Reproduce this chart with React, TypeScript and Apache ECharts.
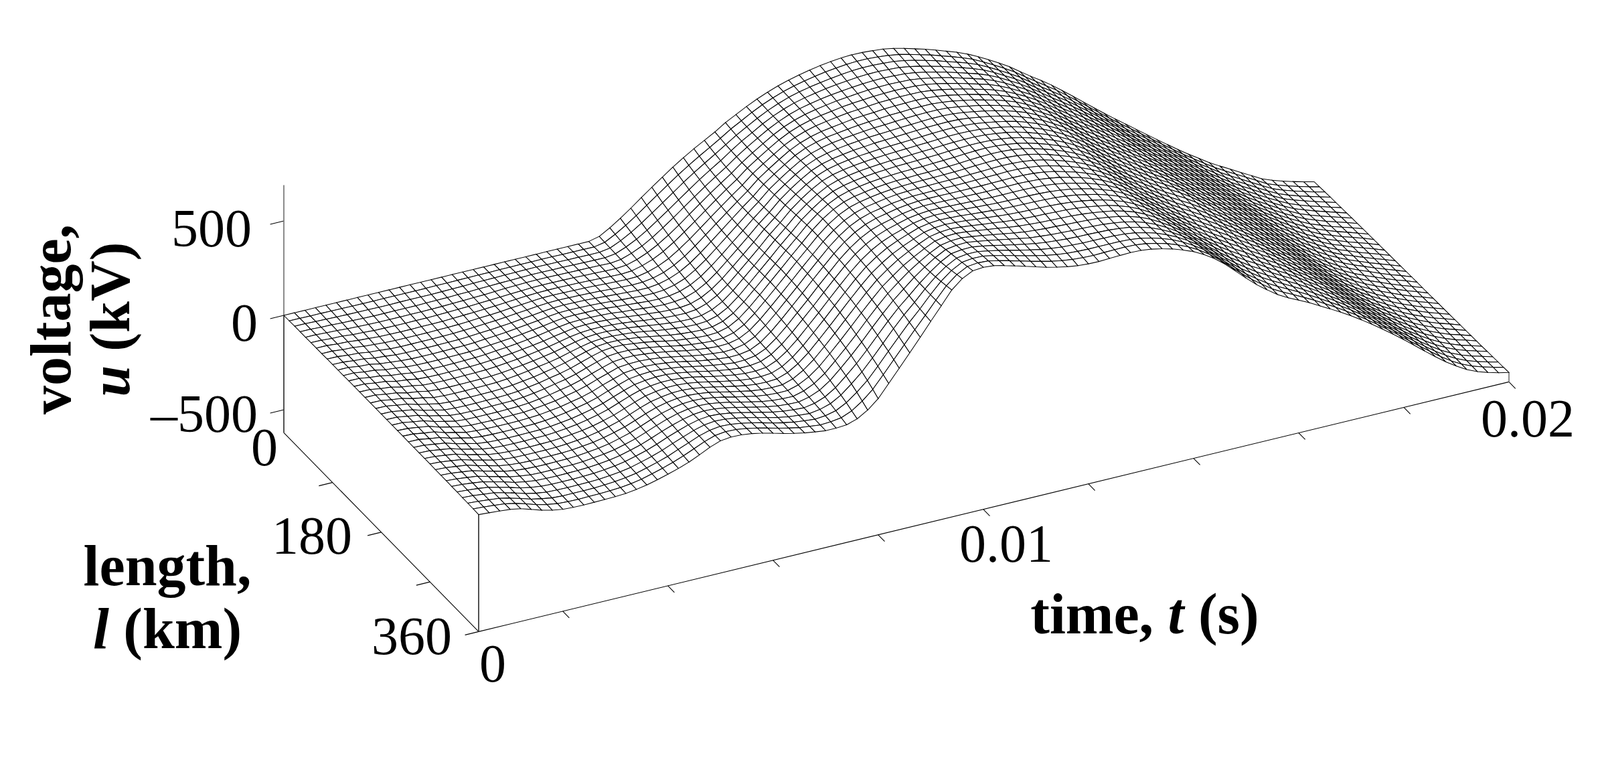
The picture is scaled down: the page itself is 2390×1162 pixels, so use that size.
import React, { useEffect, useRef } from "react";
import * as echarts from "echarts";

// voltage u (kV): one row per time step (0.0004 s ... 0.02 s, step 0.0002 s), 37 values per row (l = 0 ... 360 km, step 10 km)
const voltage: number[][] = [
[0,0,1,1,1,2,2, 2,3,3,3,3,4, 4,4,4,4,4,4, 4,4,4,4,3,3, 3,3,3,2,2,2, 1,1,0,0,-1,-2],
[0,0,1,1,1,1,2, 2,2,2,3,3,3, 3,3,3,3,3,3, 3,3,2,2,2,1, 1,0,0,-1,-1,-2, -2,-3,-3,-4,-5,-6],
[0,-1,-1,-2,-2,-3,-3, -4,-4,-4,-5,-5,-5, -5,-6,-6,-6,-6,-6, -6,-6,-6,-7,-7,-7, -7,-7,-7,-8,-8,-8, -8,-8,-9,-9,-9,-10],
[0,-1,-2,-3,-4,-4,-5, -6,-7,-8,-8,-9,-10, -10,-11,-12,-12,-13,-14, -14,-14,-14,-14,-15,-15, -15,-15,-15,-15,-15,-15, -15,-15,-15,-15,-15,-15],
[0,-2,-4,-6,-8,-10,-11, -13,-15,-17,-18,-20,-21, -23,-24,-26,-27,-29,-31, -31,-31,-32,-32,-32,-32, -32,-32,-31,-31,-30,-30, -29,-29,-28,-27,-26,-25],
[0,-2,-5,-7,-10,-12,-14, -17,-19,-21,-23,-25,-27, -29,-31,-33,-36,-40,-43, -43,-44,-44,-44,-44,-44, -44,-44,-44,-44,-44,-44, -43,-43,-43,-43,-42,-42],
[0,-3,-6,-9,-12,-15,-18, -21,-24,-27,-29,-32,-35, -38,-41,-44,-48,-52,-55, -55,-56,-56,-57,-57,-58, -58,-58,-58,-59,-59,-59, -59,-59,-60,-60,-60,-60],
[0,-3,-6,-10,-13,-16,-19, -23,-26,-29,-32,-35,-38, -41,-44,-48,-52,-56,-59, -60,-61,-62,-62,-63,-64, -65,-65,-66,-67,-68,-68, -69,-70,-71,-71,-72,-73],
[0,-3,-7,-10,-13,-17,-20, -23,-26,-29,-33,-36,-39, -42,-45,-49,-53,-57,-60, -61,-62,-63,-64,-65,-67, -68,-69,-71,-72,-73,-75, -76,-77,-79,-80,-81,-82],
[0,-3,-7,-10,-13,-17,-20, -23,-26,-29,-33,-36,-39, -42,-45,-49,-53,-57,-60, -61,-62,-64,-65,-66,-68, -69,-71,-72,-74,-75,-77, -78,-80,-81,-83,-84,-85],
[0,-3,-6,-10,-13,-16,-19, -23,-26,-29,-32,-35,-38, -41,-44,-48,-52,-56,-59, -60,-62,-63,-65,-66,-68, -69,-71,-72,-74,-76,-77, -79,-80,-82,-83,-85,-86],
[0,-3,-6,-10,-13,-16,-19, -22,-25,-28,-31,-34,-37, -40,-43,-47,-51,-55,-58, -59,-61,-62,-64,-65,-67, -68,-70,-72,-73,-75,-76, -78,-80,-81,-83,-84,-85],
[0,-3,-6,-9,-12,-15,-18, -21,-24,-27,-30,-33,-35, -38,-41,-45,-49,-53,-56, -58,-59,-61,-62,-64,-66, -67,-69,-71,-72,-74,-76, -77,-79,-80,-82,-83,-84],
[0,-3,-6,-8,-11,-13,-16, -19,-21,-24,-27,-29,-32, -34,-37,-41,-44,-48,-51, -53,-55,-56,-58,-60,-62, -63,-65,-67,-69,-71,-73, -74,-76,-78,-79,-81,-82],
[0,-2,-5,-7,-9,-11,-13, -16,-18,-20,-22,-24,-26, -29,-31,-34,-37,-40,-43, -45,-47,-49,-51,-53,-55, -57,-59,-61,-63,-65,-67, -69,-71,-73,-75,-77,-79],
[0,-2,-4,-5,-7,-9,-11, -12,-14,-16,-18,-19,-21, -23,-25,-27,-29,-32,-34, -36,-38,-41,-43,-45,-47, -49,-52,-54,-56,-58,-60, -62,-64,-66,-68,-70,-71],
[0,-1,-3,-4,-5,-6,-8, -9,-10,-11,-13,-14,-15, -16,-17,-18,-19,-21,-22, -24,-26,-29,-31,-33,-36, -38,-41,-43,-45,-48,-50, -52,-54,-56,-58,-60,-61],
[0,-1,-1,-2,-3,-3,-4, -5,-5,-6,-6,-7,-7, -8,-8,-9,-10,-10,-11, -13,-15,-17,-19,-21,-23, -25,-27,-29,-31,-33,-35, -37,-39,-41,-43,-45,-47],
[0,0,0,0,0,0,0, 1,1,1,1,1,1, 1,1,2,2,3,3, 2,1,-1,-3,-5,-7, -9,-11,-13,-15,-17,-19, -21,-23,-25,-27,-29,-31],
[0,0,1,2,3,3,4, 5,6,7,8,9,11, 12,13,15,17,19,21, 21,20,19,18,16,14, 12,10,8,6,4,2, 0,-3,-6,-9,-11,-14],
[0,1,2,3,5,6,8, 10,12,14,16,18,20, 22,25,28,31,35,39, 39,38,37,36,35,34, 33,31,30,28,26,24, 22,20,17,14,10,6],
[0,1,3,5,7,9,11, 14,16,19,22,25,28, 31,34,38,43,49,54, 55,55,55,54,53,52, 51,50,49,47,46,44, 42,40,38,36,34,31],
[0,2,4,6,8,10,12, 15,18,21,24,27,30, 34,38,43,48,54,60, 60,60,60,60,60,60, 60,60,60,60,60,60, 59,59,59,59,58,58],
[0,2,4,6,8,10,12, 14,17,20,23,26,30, 34,38,43,48,54,59, 60,61,62,63,64,65, 66,67,68,69,70,71, 72,73,74,75,77,78],
[0,2,3,5,7,9,11, 13,16,19,22,25,28, 31,35,39,44,49,53, 55,56,58,60,62,64, 66,68,70,71,73,75, 77,79,81,83,84,85],
[0,2,3,5,6,8,10, 12,14,16,19,22,25, 28,31,35,39,43,46, 48,50,52,54,56,59, 61,63,65,67,70,72, 74,76,78,80,82,83],
[0,1,2,4,5,6,8, 10,12,13,15,17,19, 22,25,28,31,34,37, 39,41,43,46,48,50, 53,55,57,60,62,64, 66,68,70,72,74,76],
[0,1,2,3,4,5,6, 7,8,10,11,13,15, 16,18,20,22,24,26, 28,31,33,35,37,40, 42,44,46,49,51,53, 55,57,59,61,63,65],
[0,1,1,2,3,3,4, 5,6,7,8,9,10, 11,12,13,14,15,16, 18,20,22,24,26,28, 30,32,34,36,38,40, 42,44,46,48,49,51],
[0,0,1,1,1,2,2, 3,3,4,4,5,5, 6,6,7,8,8,9, 10,12,13,15,17,18, 20,22,23,25,27,28, 30,31,32,33,35,36],
[13,11,10,9,8,7,6, 5,5,4,4,3,3, 3,3,3,3,4,4, 5,6,7,8,9,10, 11,12,13,14,15,16, 18,19,20,21,22,23],
[45,40,35,31,27,23,20, 16,13,11,8,6,5, 3,2,1,1,1,1, 1,2,2,3,3,4, 5,5,6,7,8,8, 9,10,10,11,11,12],
[82,74,66,59,52,46,40, 34,29,25,21,17,13, 10,8,6,5,4,4, 4,4,4,4,4,4, 4,4,4,4,4,4, 4,4,4,4,4,4],
[122,112,102,93,84,76,68, 60,54,48,42,37,33, 29,26,23,21,20,19, 18,17,16,14,13,12, 10,9,8,6,5,3, 2,1,0,-1,-2,-3],
[165,153,142,132,122,112,104, 96,88,81,75,69,64, 60,56,53,51,50,50, 48,46,43,41,38,36, 33,30,27,24,21,18, 15,11,8,4,1,-3],
[206,194,182,172,162,152,144, 136,129,122,116,111,106, 102,99,97,96,96,96, 94,91,88,84,80,76, 71,66,61,56,50,44, 38,32,25,17,9,1],
[246,234,223,213,204,195,187, 180,174,168,163,158,155, 152,150,149,149,149,149, 147,144,140,136,131,126, 120,114,107,100,92,84, 76,67,57,46,32,19],
[286,274,264,254,246,238,231, 225,220,215,211,208,205, 203,202,202,203,203,204, 202,199,196,192,187,182, 176,169,162,154,146,137, 127,116,103,88,70,52],
[322,311,302,294,286,280,274, 269,265,262,259,257,256, 255,255,256,257,258,259, 257,255,252,248,243,238, 232,226,219,211,202,192, 181,168,153,137,119,99],
[356,346,338,331,325,320,316, 313,310,309,308,308,309, 310,311,312,313,314,315, 314,312,309,306,302,297, 291,285,278,270,261,250, 239,227,213,199,183,166],
[387,379,373,367,362,359,356, 354,353,353,354,355,356, 358,360,363,365,367,369, 368,367,365,362,358,354, 349,343,337,329,321,312, 302,290,277,264,249,233],
[418,413,409,406,404,402,402, 402,403,404,405,407,409, 411,414,417,420,422,424, 423,422,420,417,414,410, 405,400,394,387,379,371, 362,352,341,328,315,301],
[454,449,445,443,441,440,440, 441,442,444,446,449,452, 455,458,461,464,468,471, 470,469,467,465,462,459, 455,451,446,440,434,426, 418,410,401,391,381,370],
[483,479,477,475,475,475,476, 477,479,481,484,487,490, 493,496,499,502,505,507, 507,506,505,503,501,498, 495,491,487,482,477,472, 466,460,454,448,444,441],
[512,510,508,508,508,509,510, 512,514,516,518,521,523, 525,527,529,531,532,533, 533,533,532,531,530,528, 526,524,522,520,518,516, 514,512,511,510,510,510],
[538,537,536,536,536,537,538, 539,540,542,543,544,545, 546,547,548,548,549,549, 549,550,550,550,549,549, 549,549,549,550,551,553, 555,558,562,567,573,580],
[561,560,559,559,559,559,559, 559,559,559,559,559,559, 559,559,559,559,559,559, 560,560,561,562,563,565, 567,570,573,577,581,586, 592,598,604,611,619,627],
[581,580,579,578,577,576,575, 574,573,572,571,570,569, 569,568,568,568,568,568, 569,570,572,574,577,581, 585,590,595,601,607,614, 621,628,634,641,648,655],
[598,596,594,592,590,588,586, 584,582,580,579,578,577, 576,575,574,574,574,574, 575,577,579,582,586,590, 595,600,606,612,618,624, 630,636,642,648,654,660],
[612,609,606,603,601,598,595, 593,590,588,586,584,582, 581,580,579,578,578,578, 579,581,584,587,591,595, 600,605,610,616,621,627, 632,637,642,647,651,655],
[624,620,616,613,610,607,604, 601,598,595,592,590,588, 586,584,583,582,581,580, 581,583,585,588,591,595, 599,603,607,612,616,620, 624,628,632,636,639,642],
[634,630,625,621,617,613,610, 606,603,600,597,594,591, 589,587,585,584,583,582, 583,584,586,588,590,593, 596,600,603,606,609,612, 615,618,621,623,625,627],
[642,637,632,627,623,619,615, 611,607,604,600,597,594, 592,590,588,586,584,583, 584,585,586,587,589,591, 593,595,597,599,601,603, 605,606,608,609,610,611],
[648,643,638,633,628,624,620, 616,612,608,604,601,598, 595,593,591,589,587,585, 585,586,586,587,588,589, 590,591,592,593,594,594, 595,595,595,595,595,595],
[651,646,641,636,631,627,622, 618,614,610,607,604,601, 598,596,593,591,589,587, 587,587,587,587,587,587, 587,587,587,586,586,585, 585,584,583,582,581,579],
[650,646,641,637,632,628,624, 620,616,613,610,607,604, 602,599,597,595,592,590, 589,589,588,587,586,585, 584,583,582,580,579,577, 575,574,572,570,568,566],
[646,642,638,634,630,626,623, 620,617,614,611,609,606, 604,602,600,598,596,594, 593,591,590,588,587,585, 583,581,579,577,575,572, 570,567,564,561,558,555],
[641,637,634,631,627,624,621, 619,616,614,611,609,607, 605,603,601,600,599,597, 595,593,591,589,587,585, 582,580,577,574,571,568, 565,562,558,554,551,547],
[631,628,625,622,620,617,615, 613,611,609,608,606,605, 603,602,601,600,600,599, 597,595,593,590,588,585, 582,579,576,573,569,566, 562,558,555,551,547,543],
[618,615,613,611,609,607,606, 604,603,602,601,600,599, 599,598,598,598,598,598, 596,594,592,589,586,583, 580,577,574,570,567,563, 559,556,552,549,545,542],
[602,600,599,597,596,595,594, 593,592,592,591,591,591, 591,591,592,593,593,594, 592,590,588,586,583,580, 577,574,571,568,565,561, 558,555,552,549,547,545],
[586,585,584,583,582,582,581, 581,581,581,581,581,582, 582,583,584,585,585,586, 585,583,581,579,576,574, 571,569,566,563,561,558, 555,553,551,549,548,547],
[568,567,566,566,566,566,566, 566,567,567,568,569,570, 571,572,573,573,573,573, 573,572,570,569,567,565, 563,561,559,557,555,554, 552,551,550,549,549,549],
[549,549,549,549,549,550,550, 551,552,553,554,555,556, 557,557,557,557,557,557, 557,556,555,554,553,552, 551,550,549,548,547,547, 546,546,546,546,547,547],
[530,530,531,531,532,533,534, 534,535,536,537,538,538, 539,539,539,539,539,539, 539,539,539,539,539,538, 538,538,538,538,538,538, 538,539,539,539,540,540],
[507,508,509,510,511,512,513, 514,515,516,517,518,518, 518,518,518,518,518,518, 519,519,519,519,520,520, 520,521,521,522,523,524, 525,525,526,527,528,529],
[480,481,482,483,485,486,487, 488,489,490,491,492,493, 493,493,494,494,494,494, 495,495,496,497,498,499, 500,501,502,503,505,506, 507,509,510,511,513,514],
[450,451,452,453,455,456,457, 459,460,461,462,463,463, 464,464,465,465,465,465, 466,467,468,469,470,472, 473,475,476,478,480,482, 484,486,488,491,493,495],
[419,420,421,423,424,425,426, 427,428,429,430,430,431, 431,431,431,431,431,431, 432,433,434,435,437,438, 440,442,444,447,449,452, 455,458,462,465,469,473],
[386,387,388,388,389,390,390, 391,391,392,392,393,393, 393,393,393,393,393,393, 394,395,396,397,399,401, 403,405,408,411,414,418, 421,425,430,434,439,444],
[347,348,349,349,350,350,351, 351,352,352,352,353,353, 353,353,353,353,353,353, 354,355,356,358,359,361, 364,366,369,372,376,379, 383,388,393,398,403,409],
[309,310,310,311,311,312,312, 313,313,314,314,314,315, 315,315,315,315,315,315, 316,317,318,319,321,322, 324,326,329,331,334,337, 341,345,349,354,360,366],
[273,273,274,274,275,275,276, 276,277,277,278,278,279, 279,279,280,280,280,280, 281,281,282,283,284,285, 287,288,290,292,294,297, 299,302,305,308,312,316],
[235,236,236,237,237,238,238, 239,240,240,241,242,242, 243,243,243,244,244,244, 245,245,246,246,247,248, 249,250,251,252,254,255, 256,258,260,262,263,265],
[193,194,195,196,197,198,199, 200,201,202,203,204,205, 206,207,208,209,210,211, 211,212,212,212,213,213, 213,214,214,214,215,215, 215,216,216,216,217,217],
[150,152,153,155,156,158,159, 161,162,164,165,167,169, 170,172,174,176,179,181, 181,181,181,181,181,181, 181,180,180,180,179,179, 179,178,178,177,177,176],
[106,108,110,112,115,117,119, 121,124,126,128,130,133, 135,138,141,144,147,150, 150,150,150,149,149,148, 148,147,146,145,145,144, 143,142,141,140,138,137],
[62,65,67,70,73,76,78, 81,84,87,90,93,96, 99,102,105,108,112,115, 115,115,115,115,115,115, 115,114,114,114,113,113, 112,111,110,109,108,107],
[18,21,24,27,30,34,37, 41,44,47,51,54,58, 61,64,67,70,72,75, 75,76,76,77,77,78, 78,78,79,79,79,80, 80,80,81,81,81,81],
[-24,-21,-18,-14,-11,-7,-4, 0,4,7,11,15,18, 22,25,28,31,34,37, 38,39,40,41,42,43, 44,45,46,47,48,49, 50,51,52,53,53,54],
[-65,-61,-58,-54,-50,-47,-43, -39,-35,-32,-28,-24,-20, -17,-14,-11,-8,-5,-3, -1,1,3,5,7,9, 11,13,14,16,17,19, 20,21,22,23,24,24],
[-106,-102,-98,-95,-91,-87,-83, -79,-75,-71,-67,-63,-59, -56,-53,-50,-47,-44,-42, -40,-37,-35,-32,-30,-27, -25,-23,-21,-19,-17,-15, -13,-11,-10,-9,-7,-6],
[-147,-143,-139,-135,-131,-127,-123, -119,-115,-111,-107,-103,-99, -96,-93,-90,-88,-85,-83, -80,-77,-75,-72,-69,-66, -64,-61,-59,-56,-54,-51, -49,-46,-44,-42,-39,-37],
[-188,-184,-180,-176,-172,-168,-163, -159,-155,-151,-147,-143,-139, -136,-133,-130,-128,-125,-123, -120,-117,-114,-111,-108,-105, -102,-99,-96,-93,-90,-87, -84,-81,-78,-75,-73,-70],
[-228,-224,-220,-216,-212,-208,-203, -199,-195,-191,-187,-183,-179, -176,-173,-170,-168,-165,-163, -160,-157,-154,-151,-147,-144, -141,-138,-134,-131,-127,-124, -120,-117,-114,-111,-108,-105],
[-268,-264,-260,-256,-252,-248,-244, -240,-236,-232,-228,-224,-221, -218,-215,-212,-210,-207,-205, -202,-199,-196,-192,-189,-185, -182,-178,-175,-171,-167,-164, -160,-156,-153,-149,-146,-142],
[-306,-302,-299,-295,-292,-288,-284, -280,-277,-273,-270,-266,-263, -260,-258,-255,-253,-250,-248, -245,-242,-239,-235,-232,-228, -225,-221,-217,-213,-209,-205, -201,-197,-193,-189,-185,-181],
[-342,-339,-335,-332,-329,-326,-322, -319,-316,-313,-310,-307,-304, -302,-300,-297,-295,-293,-291, -288,-285,-282,-279,-275,-272, -268,-264,-260,-256,-252,-248, -244,-240,-235,-231,-226,-221],
[-378,-375,-372,-369,-366,-363,-360, -357,-354,-351,-348,-345,-343, -341,-339,-337,-335,-334,-332, -330,-327,-324,-321,-318,-314, -310,-306,-302,-298,-294,-289, -285,-281,-276,-272,-267,-263],
[-410,-407,-404,-402,-399,-396,-394, -391,-389,-386,-384,-381,-379, -377,-375,-374,-373,-372,-371, -369,-366,-363,-360,-357,-353, -350,-346,-342,-338,-334,-330, -326,-322,-318,-314,-311,-307],
[-440,-437,-435,-432,-430,-428,-426, -424,-422,-420,-418,-416,-414, -412,-411,-409,-408,-407,-406, -404,-402,-399,-396,-393,-390, -387,-384,-380,-377,-373,-369, -366,-362,-359,-356,-353,-351],
[-471,-468,-466,-464,-462,-460,-458, -456,-454,-452,-450,-448,-447, -445,-443,-441,-440,-439,-438, -436,-434,-431,-429,-426,-423, -421,-418,-415,-412,-409,-406, -404,-401,-399,-397,-395,-394],
[-501,-498,-496,-494,-492,-489,-487, -485,-483,-481,-479,-477,-475, -473,-471,-470,-468,-467,-465, -464,-462,-460,-458,-456,-454, -452,-450,-448,-446,-444,-442, -440,-439,-438,-437,-436,-435],
[-532,-529,-526,-523,-520,-517,-515, -512,-510,-508,-505,-503,-501, -499,-497,-495,-493,-491,-489, -488,-487,-485,-484,-483,-481, -480,-479,-478,-477,-476,-475, -474,-473,-473,-472,-472,-471],
[-553,-550,-547,-544,-541,-538,-535, -533,-530,-528,-526,-523,-521, -519,-517,-515,-514,-512,-511, -510,-509,-508,-507,-506,-506, -505,-505,-504,-504,-504,-503, -503,-503,-503,-503,-503,-503],
[-571,-568,-565,-562,-559,-557,-554, -552,-550,-548,-546,-544,-542, -540,-539,-537,-536,-534,-533, -532,-531,-530,-530,-529,-529, -528,-528,-528,-527,-527,-527, -527,-527,-527,-527,-527,-527],
[-587,-584,-581,-578,-576,-573,-571, -569,-567,-565,-563,-561,-560, -558,-557,-556,-555,-554,-554, -553,-552,-551,-551,-550,-550, -549,-549,-548,-548,-548,-547, -547,-546,-546,-546,-545,-545],
[-602,-599,-597,-594,-592,-590,-588, -586,-584,-582,-581,-579,-578, -577,-576,-575,-574,-573,-572, -571,-571,-570,-569,-568,-568, -567,-566,-565,-565,-564,-563, -563,-562,-561,-561,-560,-560],
[-615,-613,-611,-609,-608,-606,-605, -603,-602,-601,-600,-599,-598, -597,-596,-595,-594,-593,-592, -591,-591,-590,-589,-588,-587, -586,-585,-584,-583,-582,-581, -580,-578,-577,-575,-574,-572],
];

const T_START = 0.0004, T_END = 0.02, T_STEP = 0.0002, L_STEP = 10, L_END = 360;
const tTicks = [0.002,0.004,0.006,0.008,0.01,0.012,0.014,0.016,0.018,0.02];
const lTicks = [90,180,270,360];
const uTicks = [-500,0,500];
const FLOOR = -622, CEIL = 690;
const PXU = 0.282;

const PX=(t:number,l:number)=>(t-T_START)+(291/1539)*(T_END-T_START)*(l/L_END);
const PY=(t:number,l:number,u:number)=>u+(373/PXU)*((t-T_START)/(T_END-T_START))-(297/PXU)*(l/L_END);
const timeOf=(i:number)=>T_START+i*T_STEP;

export default function App(){
  const ref=useRef<HTMLDivElement>(null);
  useEffect(()=>{
    const chart=echarts.init(ref.current!,undefined,{renderer:"svg"});
    const rows=voltage.length, cols=voltage[0].length;
    const quads:number[][]=[];
    for(let i=rows-2;i>=0;i--)for(let j=0;j<cols-1;j++){
      const t=timeOf(i),l=j*L_STEP;
      quads.push([PX(t,l),PY(t,l,voltage[i][j]),i,j]);
    }
    const mk=()=>{const s:number[][]=[];return {s,add:(a:number[],b:number[])=>s.push([PX(a[0],a[1]),PY(a[0],a[1],a[2]),PX(b[0],b[1]),PY(b[0],b[1],b[2])])};};
    const thin=mk(), dark=mk(), pale=mk();
    dark.add([T_START,0,FLOOR],[T_START,0,0]);
    pale.add([T_START,0,0],[T_START,0,CEIL]);
    thin.add([T_START,0,FLOOR],[T_START,L_END,FLOOR]);
    thin.add([T_START,L_END,FLOOR],[T_END,L_END,FLOOR]);
    dark.add([T_START,L_END,FLOOR],[T_START,L_END,voltage[0][cols-1]]);
    pale.add([T_END,L_END,FLOOR],[T_END,L_END,voltage[rows-1][cols-1]]);
    tTicks.forEach(t=>thin.add([t,L_END,FLOOR],[t,L_END+12,FLOOR]));
    lTicks.forEach(l=>thin.add([T_START,l,FLOOR],[T_START-0.00026,l,FLOOR]));
    uTicks.forEach(u=>thin.add([T_START,0,u],[T_START-0.00026,0,u]));
    const frame=(data:number[][],stroke:string,lineWidth:number)=>({type:"custom",silent:true,clip:false,data,encode:{x:0,y:1},renderItem:(_:any,api:any)=>{
      const a=api.coord([api.value(0),api.value(1)]),b=api.coord([api.value(2),api.value(3)]);
      return {type:"line",shape:{x1:a[0],y1:a[1],x2:b[0],y2:b[1]},style:{stroke,lineWidth,fill:"none"}};
    }});
    const font="Liberation Serif";
    const lab=(text:string,x:number,y:number,align:string)=>({type:"text",x,y,silent:true,style:{text,align,verticalAlign:"middle",fontFamily:font,fontSize:80,fill:"#000"}});
    const rich=(text:string,x:number,y:number,rotation=0,size=86)=>({type:"text",x,y,rotation,silent:true,style:{text,align:"center",verticalAlign:"middle",rich:{b:{fontFamily:font,fontSize:size,fontWeight:"bold",fill:"#000"},i:{fontFamily:font,fontSize:size,fontWeight:"bold",fontStyle:"italic",fill:"#000"}}}});
    chart.setOption({
      animation:false,
      grid:{left:424,top:40,width:1830,height:960},
      xAxis:{type:"value",show:false,min:0,max:(T_END-T_START)*1830/1539,scale:true},
      yAxis:{type:"value",show:false,min:(471-1000)/PXU,max:(471-40)/PXU,scale:true},
      series:[
        frame(thin.s,"#000",1.1),frame(dark.s,"#333",1.7),frame(pale.s,"#777",1.7),
        {type:"custom",silent:true,clip:false,data:quads,encode:{x:0,y:1},renderItem:(_:any,api:any)=>{
          const i=api.value(2),j=api.value(3);
          const c=(ii:number,jj:number)=>api.coord([PX(timeOf(ii),jj*L_STEP),PY(timeOf(ii),jj*L_STEP,voltage[ii][jj])]);
          return {type:"polygon",shape:{points:[c(i,j),c(i+1,j),c(i+1,j+1),c(i,j+1)]},style:{fill:"#fff",stroke:"#000",lineWidth:1.05}};
        }},
      ],
      graphic:{elements:[
        lab("500",376,341,"right"),lab("0",385,482,"right"),lab("–500",385,618,"right"),
        lab("0",415,668,"right"),lab("180",526,800,"right"),lab("360",675,950,"right"),
        lab("0",716,991,"left"),lab("0.01",1503,812,"center"),lab("0.02",2282,625,"center"),
        rich("{b|voltage,}",76,477,Math.PI/2),rich("{i|u}{b| (kV)}",164,477,Math.PI/2,84),
        rich("{b|length,}",250,845),rich("{i|l}{b| (km)}",250,939),
        rich("{b|time, }{i|t}{b| (s)}",1710,917),
      ]},
    });
    return ()=>chart.dispose();
  },[]);
  return <div ref={ref} style={{position:"fixed",left:0,top:0,width:2390,height:1162,background:"#fff"}}/>;
}
